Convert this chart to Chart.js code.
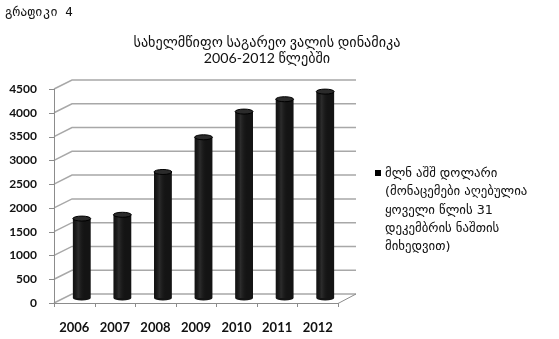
<!DOCTYPE html>
<html>
<head>
<meta charset="utf-8">
<script src="https://cdn.jsdelivr.net/npm/chart.js@4/dist/chart.umd.min.js"></script>
<style>
  html, body { margin: 0; padding: 0; background: #fff; }
  #wrap { position: relative; width: 559px; height: 339px; overflow: hidden; }
  #chart { position: absolute; left: 0; top: 0; }
  #fig { position: absolute; left: 5px; top: 4px; font-family: "DejaVu Sans Mono", monospace; font-size: 12.5px; color: #111; }
  #title { position: absolute; left: 67px; width: 400px; top: 34px; text-align: center;
           font-family: Lato, "DejaVu Sans", sans-serif; font-size: 14.2px; line-height: 15.5px; color: #111; }
  #legend { position: absolute; left: 374px; top: 164px; font-family: "DejaVu Sans", sans-serif; font-size: 12.8px; line-height: 18.3px; color: #111; }
  #legend .box { position: absolute; left: 1px; top: 6px; width: 6px; height: 6px; background: #000; }
  #legend .txt { margin-left: 11px; white-space: nowrap; }
</style>
</head>
<body>
<div id="wrap">
  <canvas id="chart" width="559" height="339"></canvas>
  <div id="fig">გრაფიკი  4</div>
  <div id="title">სახელმწიფო საგარეო ვალის დინამიკა<br>2006-2012 წლებში</div>
  <div id="legend"><div class="box"></div><div class="txt" id="legendText"></div></div>
</div>
<script>
// Georgian state external debt, mln USD
const years = ['2006', '2007', '2008', '2009', '2010', '2011', '2012'];
const debt = [1670, 1750, 2650, 3380, 3920, 4180, 4340];
const yTicks = [0, 500, 1000, 1500, 2000, 2500, 3000, 3500, 4000, 4500];
const legendLines = ['მლნ აშშ დოლარი', '(მონაცემები აღებულია', 'ყოველი წლის 31', 'დეკემბრის ნაშთის', 'მიხედვით)'];

document.getElementById('legendText').innerHTML = legendLines.join('<br>');

// 3D look: back wall is shifted by (DX, DY), bars sit half way in
const DX = 18, DY = -9;
const BX = 7.5, BY = -5;

const frame3d = {
    id: 'frame3d',
    beforeDatasetsDraw(chart) {
        const ctx = chart.ctx;
        const {left, right} = chart.chartArea;
        const y = chart.scales.y;
        const y0 = y.getPixelForValue(0);
        ctx.save();
        // back wall grid lines with the diagonal into the front axis
        ctx.strokeStyle = '#a8a8a8';
        ctx.lineWidth = 1.5;
        yTicks.forEach(v => {
            const py = y.getPixelForValue(v);
            ctx.beginPath();
            ctx.moveTo(left, py);
            ctx.lineTo(left + DX, py + DY);
            ctx.lineTo(right + DX, py + DY);
            ctx.stroke();
        });
        // front axis and floor edge
        ctx.strokeStyle = '#8c8c8c';
        ctx.lineWidth = 1;
        ctx.beginPath();
        ctx.moveTo(left + 0.5, y.getPixelForValue(yTicks[yTicks.length - 1]));
        ctx.lineTo(left + 0.5, y0);
        yTicks.forEach(v => {
            const py = Math.round(y.getPixelForValue(v)) + 0.5;
            ctx.moveTo(left - 5, py);
            ctx.lineTo(left, py);
        });
        ctx.moveTo(left, y0 + 0.5);
        ctx.lineTo(right, y0 + 0.5);
        ctx.lineTo(right + DX, y0 + DY);
        const w = (right - left) / years.length;
        for (let i = 0; i <= years.length; i++) {
            const px = Math.round(left + i * w) + 0.5;
            ctx.moveTo(px, y0);
            ctx.lineTo(px, y0 + 4);
        }
        ctx.stroke();
        ctx.restore();

        // bars are drawn shifted into the depth
        ctx.save();
        ctx.translate(BX, BY);
    },
    afterDatasetsDraw(chart) {
        const ctx = chart.ctx;
        const meta = chart.getDatasetMeta(0);
        meta.data.forEach(bar => {
            const w = bar.width, h = 5;
            // shading of the cylinder
            const g = ctx.createLinearGradient(bar.x - w / 2, 0, bar.x + w / 2, 0);
            g.addColorStop(0, 'rgba(0,0,0,0)');
            g.addColorStop(0.3, 'rgba(255,255,255,0.10)');
            g.addColorStop(0.7, 'rgba(0,0,0,0)');
            ctx.fillStyle = g;
            ctx.fillRect(bar.x - w / 2, bar.y, w, bar.base - bar.y);
            // rounded bottom
            ctx.fillStyle = '#141414';
            ctx.beginPath();
            ctx.ellipse(bar.x, bar.base, w / 2, h / 2, 0, 0, Math.PI);
            ctx.fill();
            // top cap
            ctx.fillStyle = '#2b2b2b';
            ctx.strokeStyle = '#000';
            ctx.lineWidth = 1;
            ctx.beginPath();
            ctx.ellipse(bar.x, bar.y, w / 2, h / 2, 0, 0, Math.PI * 2);
            ctx.fill();
            ctx.stroke();
        });
        ctx.restore();
    }
};

const chart = new Chart(document.getElementById('chart'), {
    type: 'bar',
    data: {
        labels: years,
        datasets: [{
            label: legendLines.join(' '),
            data: debt,
            backgroundColor: '#141414',
            borderWidth: 0,
            categoryPercentage: 1,
            barPercentage: 0.44,
            clip: false
        }]
    },
    options: {
        responsive: false,
        animation: false,
        layout: {padding: {top: 89, right: 221, left: 0, bottom: 0}},
        plugins: {
            legend: {display: false},
            title: {display: false},
            tooltip: {enabled: false}
        },
        scales: {
            x: {
                grid: {display: false, drawTicks: false},
                border: {display: false},
                ticks: {color: '#111', font: {family: 'Lato', size: 13, weight: 'bold'}, padding: 17, maxRotation: 0},
                afterFit: s => { s.height = 36; }
            },
            y: {
                min: 0,
                max: 4500,
                grid: {display: false, drawTicks: false},
                border: {display: false},
                afterBuildTicks: s => { s.ticks = yTicks.map(v => ({value: v})); },
                ticks: {color: '#111', font: {family: 'Lato', size: 12, weight: 'bold'}, padding: 17,
                        callback: v => String(v)},
                afterFit: s => { s.width = 54; }
            }
        }
    },
    plugins: [frame3d]
});
</script>
</body>
</html>
